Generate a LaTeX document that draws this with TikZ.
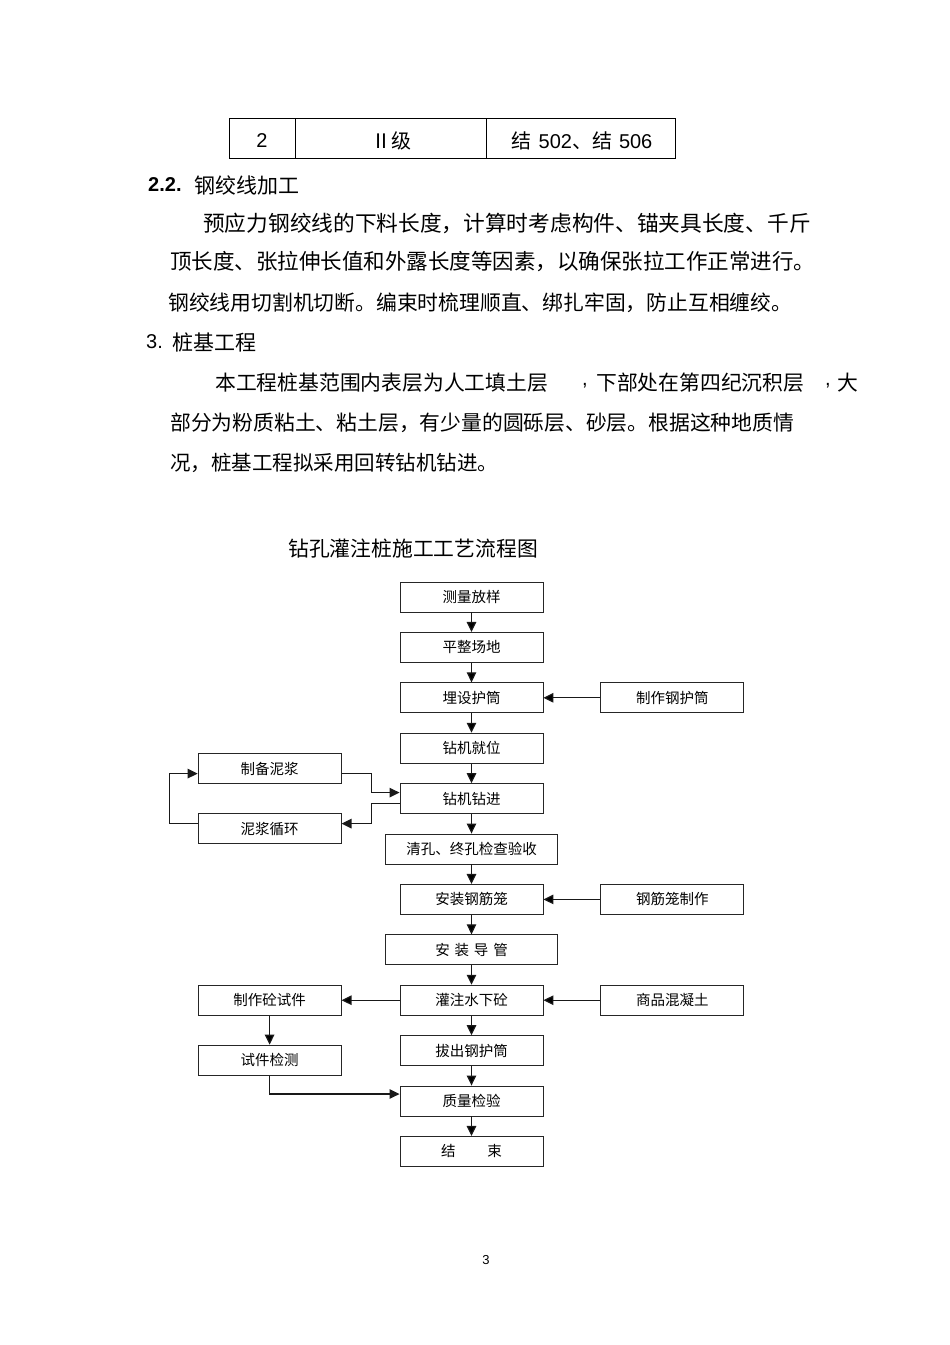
\documentclass[tikz,border=0pt]{standalone}
\usepackage{fontspec}
\setmainfont{Liberation Sans}
\newfontfamily\cjk{Noto Sans CJK SC}
\usetikzlibrary{positioning, arrows.meta}
\tikzset{
>={Triangle[length=10pt,width=9.5pt]}, % filled arrow heads
stepbox/.style={draw=black!85, line width=0.9pt, minimum width=143pt, minimum height=30pt, inner sep=0pt, font=\cjk\fontsize{14.5}{15}\selectfont}, % flow chart boxes
widebox/.style={stepbox, minimum width=172pt},
flow/.style={->, line width=1.2pt, draw=black!90},
body/.style={anchor=west, inner sep=0pt, font=\cjk\fontsize{21}{21}\selectfont}, % page text
cell/.style={inner sep=0pt, font=\fontsize{20}{20}\selectfont},
}

\begin{document}
\begin{tikzpicture}[x=1pt, y=-1pt, node distance=19.5pt]
            \useasboundingbox (0,0) rectangle (950,1345);

            % table row
            \draw[line width=0.9pt] (229,118) rectangle (675,158) (295,118) -- (295,158) (486,118) -- (486,158);
            \node[cell] (c1) at (262,141) {2};
            \node[cell] (c2) at (391,141) {{\cjk Ⅱ级}};
            \node[cell] (c3) at (582,141) {{\cjk 结}\hspace{7pt}502{\cjk 、结}\hspace{7pt}506};

            % text
            \node[body, font=\bfseries\fontsize{20}{20}\selectfont] (h22) at (148,185) {2.2.};
            \node[body] (h22t) at (194,185) {钢绞线加工};
            \node[body, font=\cjk\fontsize{21.7}{22}\selectfont] (p1) at (203,223) {预应力钢绞线的下料长度，计算时考虑构件、锚夹具长度、千斤};
            \node[body, font=\cjk\fontsize{21.5}{22}\selectfont] (p2) at (170,262) {顶长度、张拉伸长值和外露长度等因素，以确保张拉工作正常进行。};
            \node[body, font=\cjk\fontsize{20.8}{21}\selectfont] (p3) at (168,303) {钢绞线用切割机切断。编束时梳理顺直、绑扎牢固，防止互相缠绞。};
            \node[body, font=\fontsize{20}{20}\selectfont] (h3) at (146,342) {3.};
            \node[body] (h3t) at (172,342) {桩基工程};
            \node[body, font=\cjk\fontsize{20.8}{21}\selectfont] (p4a) at (215,383) {本工程桩基范围内表层为人工填土层};
            \node[body, font=\fontsize{20}{20}\selectfont] (p4b) at (582,386) {,};
            \node[body, font=\cjk\fontsize{20.8}{21}\selectfont] (p4c) at (596,383) {下部处在第四纪沉积层};
            \node[body, font=\fontsize{20}{20}\selectfont] (p4d) at (825,386) {,};
            \node[body, font=\cjk\fontsize{20.8}{21}\selectfont] (p4e) at (837,383) {大};
            \node[body, font=\cjk\fontsize{20.8}{21}\selectfont] (p5) at (170,423) {部分为粉质粘土、粘土层，有少量的圆砾层、砂层。根据这种地质情};
            \node[body, font=\cjk\fontsize{20.5}{21}\selectfont] (p6) at (170,463) {况，桩基工程拟采用回转钻机钻进。};

            % flow chart
            \node[body, font=\cjk\fontsize{20.8}{21}\selectfont] (title) at (288,549) {钻孔灌注桩施工工艺流程图};

            \node[stepbox] (clfy) at (471.5,597) {测量放样};
            \node[stepbox, below=of clfy] (pzcd) {平整场地};
            \node[stepbox, below=of pzcd] (mshd) {埋设护筒};
            \node[stepbox, below=of mshd] (zjjw) {钻机就位};
            \node[stepbox, below=of zjjw] (zjzj) {钻机钻进};
            \node[widebox, below=of zjzj] (qkys) {清孔、终孔检查验收};
            \node[stepbox, below=of qkys] (azgj) {安装钢筋笼};
            \node[widebox, below=of azgj] (azdg) {安\,\,装\,\,导\,\,管};
            \node[stepbox, below=of azdg] (gzsx) {灌注水下砼};
            \node[stepbox, below=of gzsx] (bchd) {拔出钢护筒};
            \node[stepbox, below=of bchd] (zljy) {质量检验};
            \node[stepbox, below=of zljy] (js) {结\hspace{2.2em}束};

            \node[stepbox, right=57pt of mshd] (zzhd) {制作钢护筒};
            \node[stepbox, left=58pt of zjzj, yshift=30pt] (zbnj) {制备泥浆};
            \node[stepbox, left=58pt of zjzj, yshift=-30pt] (njxh) {泥浆循环};
            \node[stepbox, right=57pt of azgj] (gjzz) {钢筋笼制作};
            \node[stepbox, right=57pt of gzsx] (sphn) {商品混凝土};
            \node[stepbox, left=58pt of gzsx] (zzsj) {制作砼试件};
            \node[stepbox, below=29pt of zzsj] (sjjc) {试件检测};

            \draw[flow]
                (clfy) edge (pzcd)
                (pzcd) edge (mshd)
                (mshd) edge (zjjw)
                (zjjw) edge (zjzj)
                (zjzj) edge (qkys)
                (qkys) edge (azgj)
                (azgj) edge (azdg)
                (azdg) edge (gzsx)
                (gzsx) edge (bchd)
                (bchd) edge (zljy)
                (zljy) edge (js)

                (zzhd) edge (mshd)
                (gjzz) edge (azgj)
                (sphn) edge (gzsx)
                (gzsx) edge (zzsj)
                (zzsj) edge (sjjc)
                ;
            % mud circuit
            \draw[flow] ([yshift=-5pt]zbnj.east) -- ++(30,0) |- ([yshift=6pt]zjzj.west);
            \draw[flow] ([yshift=-5pt]zjzj.west) -- ++(-28,0) |- ([yshift=5pt]njxh.east);
            \draw[flow] ([yshift=5pt]njxh.west) -- ++(-28,0) |- ([yshift=-5pt]zbnj.west);
            \draw[flow] (sjjc.south) |- ([yshift=7pt]zljy.west);

            \node[inner sep=0pt, font=\fontsize{13}{13}\selectfont] (pageno) at (486,1260) {3};
\end{tikzpicture}
\end{document}
